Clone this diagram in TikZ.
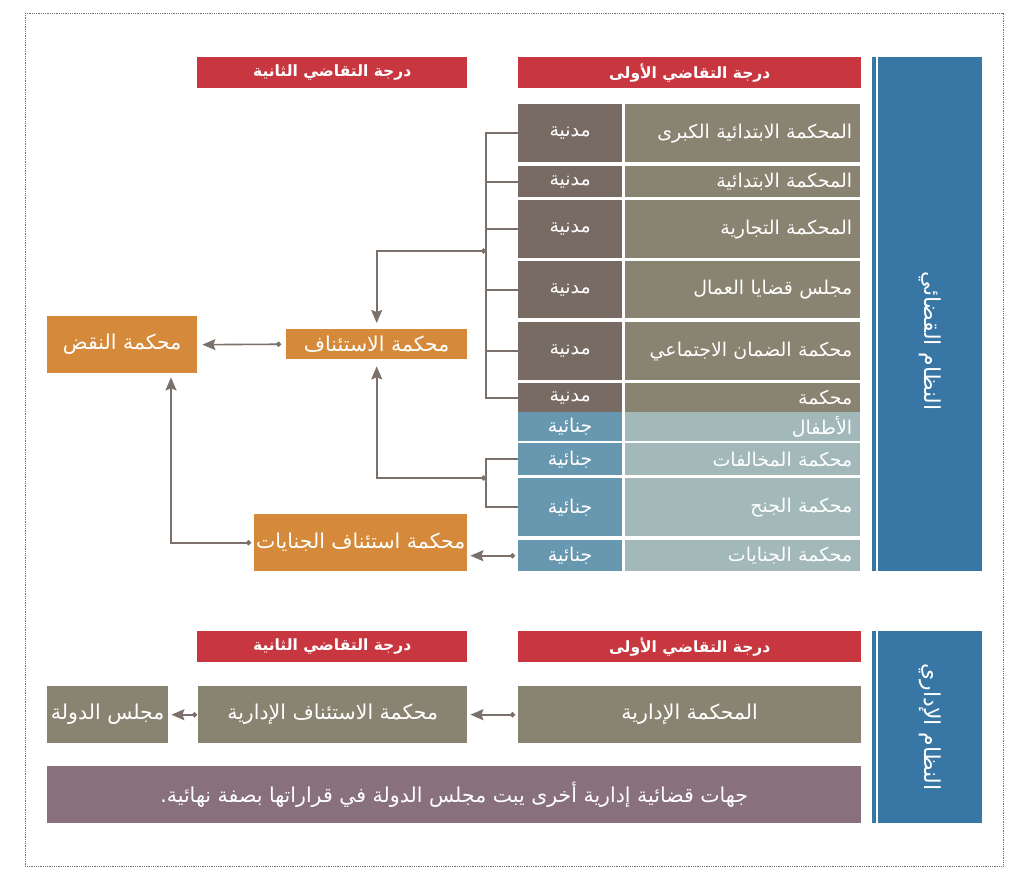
\documentclass[tikz,border=0pt]{standalone}
\usepackage{fontspec}
\usepackage{tikz}
\usetikzlibrary{arrows.meta}
\newfontfamily\arabicfont[Script=Arabic]{DejaVu Sans}
\TeXXeTstate=1
\newcommand{\arb}[1]{\beginR#1\endR}

\definecolor{headred}{HTML}{C8363F}
\definecolor{civname}{HTML}{898371}
\definecolor{civtype}{HTML}{786B63}
\definecolor{crimname}{HTML}{A3B9B9}
\definecolor{crimtype}{HTML}{6897B0}
\definecolor{appealorange}{HTML}{D48A3A}
\definecolor{sysblue}{HTML}{3776A5}
\definecolor{otherpurple}{HTML}{88717C}
\definecolor{linkgrey}{HTML}{7B716A}

\begin{document}
\begin{tikzpicture}[x=1pt,y=-1pt,
  cell/.style={inner sep=0pt, anchor=north west, text=white,
    font=\arabicfont\fontsize{19}{23}\selectfont},
  header/.style={cell, fill=headred, minimum height=31,
    font=\arabicfont\bfseries\fontsize{15.5}{18}\selectfont},
  namecell/.style={cell, text width=219, inner xsep=8pt, align=right},
  orangebox/.style={cell, fill=appealorange,
    font=\arabicfont\fontsize{20.5}{24}\selectfont},
  greybox/.style={cell, fill=civname, minimum height=57,
    font=\arabicfont\fontsize{20.5}{24}\selectfont},
  sysbar/.style={cell, fill=sysblue, minimum width=104},
  syslabel/.style={text=white, inner sep=0pt, rotate=-90,
    font=\arabicfont\fontsize{22}{26}\selectfont},
  link/.style={draw=linkgrey, line width=1.6pt},
  flow/.style={link, {Circle[length=5pt]}-{Stealth[length=13pt,width=11pt,inset=2pt]}}]
  \useasboundingbox (0,0) rectangle (1024,872);
  \draw[black!55, line width=0.9pt, dash pattern=on 0.9pt off 0.9pt] (25,13) rectangle (1003,866);

  % Judicial system
  \node[sysbar, minimum height=514] (judicial) at (878,57) {};
  \node[syslabel] (judiciallabel) at ([yshift=-27pt]judicial.center) {\arb{النظام القضائي}};
  \fill[sysblue] ([xshift=-6]judicial.north west) rectangle ([xshift=-2]judicial.south west);
  \node[header, minimum width=343] (first) at (518,57) {\arb{درجة التقاضي الأولى}};
  \node[header, minimum width=270] (second) at (197,57) {\arb{درجة التقاضي الثانية}};
  \foreach \i/\rowy/\rowh/\court/\kind/\kindtext in {
    1/104/58/المحكمة الابتدائية الكبرى/civ/مدنية,
    2/166/31/المحكمة الابتدائية/civ/مدنية,
    3/200/58/المحكمة التجارية/civ/مدنية,
    4/261/57/مجلس قضايا العمال/civ/مدنية,
    5/322/58/محكمة الضمان الاجتماعي/civ/مدنية,
    6/383/29/محكمة/civ/مدنية,
    7/412/29/الأطفال/crim/جنائية,
    8/443/32/محكمة المخالفات/crim/جنائية,
    9/478/58/محكمة الجنح/crim/جنائية,
    10/540/31/محكمة الجنايات/crim/جنائية}
  {
    \node[cell, fill=\kind type, minimum width=104, minimum height=\rowh] (type\i) at (518,\rowy) {\arb{\kindtext}};
    \node[namecell, fill=\kind name, minimum height=\rowh] (court\i) at (625,\rowy) {\arb{\court}};
  }
  \node[orangebox, minimum width=150, minimum height=57] (cassation) at (47,316) {\arb{محكمة النقض}};
  \node[orangebox, minimum width=181, minimum height=30] (appeal) at (286,329) {\arb{محكمة الاستئناف}};
  \node[orangebox, minimum width=213, minimum height=57] (crimappeal) at (254,514) {\arb{محكمة استئناف الجنايات}};

  % civil courts
  \draw[link] (type1.west) -- ++(-32,0) coordinate (ctop) -- (ctop |- type6.west) -- (type6.west);
  \foreach \i in {2,...,5}
    \draw[link] (type\i.west) -- (ctop |- type\i.west);
  \coordinate (cjoin) at (486,251);
  \draw[flow, shorten >=6pt] (cjoin) -| (appeal.north);
  % criminal courts
  \draw[link] (type8.west) -- ++(-32,0) coordinate (dtop) -- (dtop |- type9.west) -- (type9.west);
  \coordinate (djoin) at (486,478);
  \draw[flow, shorten >=7pt] (djoin) -| (appeal.south);
  \draw[flow, shorten <=3pt, shorten >=3pt] (type10.west) -- (type10.west -| crimappeal.east);
  \draw[flow, shorten <=5pt, shorten >=5pt] (appeal.west) -- (cassation.east);
  \coordinate (kx) at (171,0);
  \draw[flow, shorten <=3pt, shorten >=4pt] (crimappeal.west) -| (kx |- cassation.south);

  % Administrative system
  \node[sysbar, minimum height=192] (administrative) at (878,631) {};
  \node[syslabel] (adminlabel) at (administrative.center) {\arb{النظام الإداري}};
  \fill[sysblue] ([xshift=-6]administrative.north west) rectangle ([xshift=-2]administrative.south west);
  \node[header, minimum width=343] (afirst) at (518,631) {\arb{درجة التقاضي الأولى}};
  \node[header, minimum width=270] (asecond) at (197,631) {\arb{درجة التقاضي الثانية}};
  \node[greybox, minimum width=343] (admincourt) at (518,686) {\arb{المحكمة الإدارية}};
  \node[greybox, minimum width=269] (adminappeal) at (198,686) {\arb{محكمة الاستئناف الإدارية}};
  \node[greybox, minimum width=121] (council) at (47,686) {\arb{مجلس الدولة}};
  \node[greybox, fill=otherpurple, minimum width=814] (others) at (47,766) {\arb{جهات قضائية إدارية أخرى يبت مجلس الدولة في قراراتها بصفة نهائية.}};
  \draw[flow, shorten <=3pt, shorten >=3pt] (admincourt.west) -- (adminappeal.east);
  \draw[flow, shorten <=1pt, shorten >=3pt] (adminappeal.west) -- (council.east);
\end{tikzpicture}
\end{document}
